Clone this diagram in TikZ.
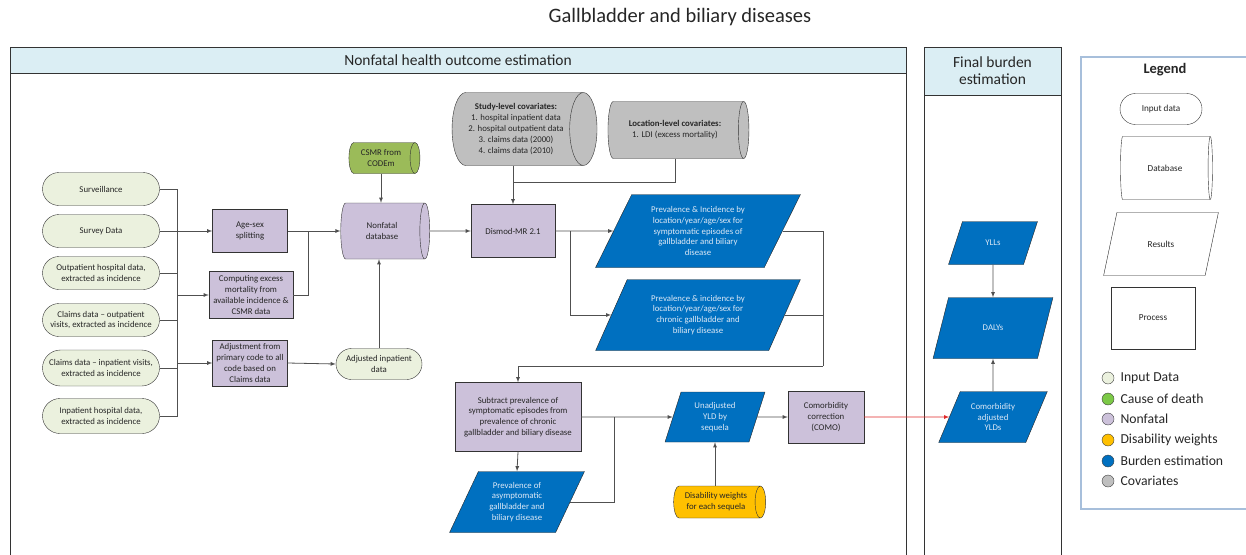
\documentclass[tikz,border=0pt]{standalone}
\usepackage{fontspec}
\setmainfont{Carlito}
\usepackage{xcolor}
\usepackage{tikz}
\usetikzlibrary{shapes,arrows,positioning,fit,backgrounds}

\definecolor{inputfill}{HTML}{EBF1DE}
\definecolor{codfill}{HTML}{9BBB59}
\definecolor{nonfatalfill}{HTML}{CCC1DA}
\definecolor{dwfill}{HTML}{FFC000}
\definecolor{burdenfill}{HTML}{0070C0}
\definecolor{covfill}{HTML}{BFBFBF}
\definecolor{headfill}{HTML}{DBEEF4}
\definecolor{resulttext}{HTML}{DCE8F6}
\definecolor{textgray}{HTML}{262626}
\definecolor{wiregray}{HTML}{505050}
\definecolor{legendblue}{HTML}{A7BFDB}
\definecolor{comored}{HTML}{E02828}

\begin{document}
\begin{tikzpicture}[
  x=1pt, y=-1pt,
  every node/.style={font=\fontsize{8.8}{10.8}\selectfont, text=textgray},
  inputbox/.style={rounded rectangle, draw=black!80, fill=inputfill, align=center,
                   minimum width=119pt, minimum height=33pt, inner sep=1pt},
  procbox/.style={rectangle, draw=black!80, fill=nonfatalfill, align=center, inner sep=1pt},
  % cylinder sizes are given before rotation: height runs along x
  dbase/.style={cylinder, draw=black!80, shape aspect=0.52, align=center, inner sep=1pt},
  result/.style={trapezium, trapezium left angle=63, trapezium right angle=117,
                 trapezium stretches=true, draw=black!85, fill=burdenfill,
                 text=resulttext, align=center, inner sep=1pt},
  lanebox/.style={draw=black!80, line width=0.9pt},
  dot/.style={circle, draw=black!75, minimum size=12pt, inner sep=0pt},
  legtext/.style={anchor=west, font=\fontsize{13.7}{16}\selectfont},
  smalltext/.style={font=\fontsize{9.2}{11}\selectfont},
  wire/.style={draw=wiregray, line width=0.8pt},
  arrow/.style={wire, -latex},
  redarrow/.style={draw=comored, line width=0.8pt, -latex}
]
\useasboundingbox (0,0) rectangle (1246,554);

\node[font=\fontsize{20.5}{24}\selectfont] (title) at (680,17) {Gallbladder and biliary diseases};

% swim lanes
\draw[lanebox] (10,47) rectangle (906,570);
\draw[lanebox, fill=headfill] (10,47) rectangle (906,73);
\node[font=\fontsize{15.5}{18}\selectfont] (nfhead) at (458,60) {Nonfatal health outcome estimation};
\draw[lanebox] (924,47) rectangle (1061,570);
\draw[lanebox, fill=headfill] (924,47) rectangle (1061,95);
\node[font=\fontsize{15.5}{17}\selectfont, align=center] (fbhead) at (992.5,71) {Final burden\\estimation};

% input data
\node[inputbox] (surv) at (101,189) {Surveillance};
\node[inputbox] (survey) at (101,231) {Survey Data};
\node[inputbox] (outhosp) at (101,273) {Outpatient hospital data,\\extracted as incidence};
\node[inputbox] (claimsout) at (101,320) {Claims data -- outpatient\\visits, extracted as incidence};
\node[inputbox, minimum height=36pt] (claimsin) at (101,368) {Claims data -- inpatient visits,\\extracted as incidence};
\node[inputbox, minimum height=35pt] (inhosp) at (101,416) {Inpatient hospital data,\\extracted as incidence};
\coordinate (bus) at (177,189);

% nonfatal processing
\node[procbox, minimum width=75pt, minimum height=43pt] (agesex) at (250,231) {Age-sex\\splitting};
\node[procbox, minimum width=84pt, minimum height=47pt] (excess) at (251,295)
      {Computing excess\\mortality from\\available incidence \&\\CSMR data};
\node[procbox, minimum width=75pt, minimum height=46pt] (adjust) at (250,363)
      {Adjustment from\\primary code to all\\code based on\\Claims data};
\node[inputbox, minimum width=88pt, minimum height=31pt] (adjinp) at (379,364) {Adjusted inpatient\\data};
\node[dbase, fill=nonfatalfill, minimum height=89pt, minimum width=56pt] (nonfatal) at (382,231) {Nonfatal\\database};
\node[dbase, fill=codfill, minimum height=71pt, minimum width=31pt] (csmr) at (381,158) {CSMR from\\CODEm};
\coordinate (merge) at (308,231);

% covariates and modelling
\node[dbase, fill=covfill, minimum height=145pt, minimum width=73pt] (studycov) at (516,129)
      {\textbf{Study-level covariates:}\\1. hospital inpatient data\\2. hospital outpatient data\\3. claims data (2000)\\4. claims data (2010)};
\node[dbase, fill=covfill, minimum height=141pt, minimum width=57pt] (loccov) at (675,130)
      {\textbf{Location-level covariates:}\\1. LDI (excess mortality)};
\node[procbox, minimum width=84pt, minimum height=53pt] (dismod) at (513,231) {Dismod-MR 2.1};
\coordinate (split) at (570,231);

\node[result, minimum width=205pt, minimum height=73pt] (symp) at (698,231)
      {Prevalence \& Incidence by\\location/year/age/sex for\\symptomatic episodes of\\gallbladder and biliary\\disease};
\node[result, minimum width=205pt, minimum height=71pt] (chronic) at (698,315)
      {Prevalence \& incidence by\\location/year/age/sex for\\chronic gallbladder and\\biliary disease};
\coordinate (loopr) at (823,366);

\node[procbox, minimum width=126pt, minimum height=69pt] (subtract) at (518,417)
      {Subtract prevalence of\\symptomatic episodes from\\prevalence of chronic\\gallbladder and biliary disease};
\node[result, minimum width=135pt, minimum height=61pt] (asymp) at (517,502)
      {Prevalence of\\asymptomatic\\gallbladder and\\biliary disease};
\coordinate (join) at (614,417);

\node[result, trapezium left angle=72, trapezium right angle=108,
      minimum width=100pt, minimum height=50pt] (unadj) at (715,417) {Unadjusted\\YLD by\\sequela};
\node[dbase, fill=dwfill, minimum height=92pt, minimum width=32pt] (dw) at (716,502) {Disability weights\\for each sequela};
\node[procbox, minimum width=76pt, minimum height=52pt] (como) at (826,417) {Comorbidity\\correction\\(COMO)};

% final burden
\node[result, minimum width=89pt, minimum height=43pt] (ylls) at (993,243) {YLLs};
\node[result, minimum width=120pt, minimum height=61pt] (dalys) at (993,328) {DALYs};
\node[result, minimum width=109pt, minimum height=51pt] (adjyld) at (993,417) {Comorbidity\\adjusted\\YLDs};

% legend
\draw[draw=legendblue, line width=1.2pt] (1081,57) rectangle (1270,509);
\node[font=\bfseries\fontsize{14.5}{17}\selectfont] (legtitle) at (1165,70) {Legend};
\node[inputbox, fill=white, minimum width=84pt, minimum height=31pt, smalltext] (leginput) at (1161,109) {Input data};
\node[dbase, fill=white, minimum height=92pt, minimum width=63pt, smalltext] (legdb) at (1165,168) {Database};
\node[result, fill=white, text=textgray, minimum width=115pt, minimum height=63pt, smalltext] (legres) at (1161,244) {Results};
\node[procbox, fill=white, minimum width=84pt, minimum height=62pt, smalltext] (legproc) at (1153,318) {Process};

\node[dot, fill=inputfill] (dotinput) at (1108,378) {};
\node[legtext] (labinput) at (1117,378) {Input Data};
\node[dot, fill=codfill!80!green] (dotcod) at (1108,399) {};
\node[legtext] (labcod) at (1117,399) {Cause of death};
\node[dot, fill=nonfatalfill] (dotnf) at (1108,419) {};
\node[legtext] (labnf) at (1117,419) {Nonfatal};
\node[dot, fill=dwfill] (dotdw) at (1108,440) {};
\node[legtext] (labdw) at (1117,440) {Disability weights};
\node[dot, fill=burdenfill] (dotburden) at (1108,461) {};
\node[legtext] (labburden) at (1117,461) {Burden estimation};
\node[dot, fill=covfill] (dotcov) at (1108,481) {};
\node[legtext] (labcov) at (1117,481) {Covariates};

% connectors
\draw[wire] (surv.east) -- (surv.east -| bus) -- (inhosp.east -| bus) -- (inhosp.east);
\draw[wire] (survey.east) -- (survey.east -| bus);
\draw[wire] (outhosp.east) -- (outhosp.east -| bus);
\draw[wire] (claimsout.east) -- (claimsout.east -| bus);
\draw[wire] (claimsin.east) -- (claimsin.east -| bus);
\draw[arrow] (agesex.west -| bus) -- (agesex.west);
\draw[arrow] (excess.west -| bus) -- (excess.west);
\draw[arrow] (adjust.west -| bus) -- (adjust.west);

\draw[arrow] (agesex.east) -- (nonfatal.west);
\draw[wire] (excess.east) -| (merge);
\draw[arrow] (adjust.east) -- (adjinp.west);
\draw[arrow] (adjinp.north) -- (adjinp.north |- nonfatal.south);
\draw[arrow] (csmr.south) -- (csmr.south |- nonfatal.north);
\draw[arrow] (nonfatal.east) -- (dismod.west);

\draw[arrow] (studycov.south -| dismod.north) -- (dismod.north);
\draw[wire] (loccov.south) |- ([yshift=-17pt]studycov.south -| dismod.north);

\draw[arrow] (dismod.east) -- (symp.west);
\draw[arrow] (split) |- (chronic.west);
\draw[wire] (symp.east) -| (loopr);
\draw[wire] (chronic.east) -- (chronic.east -| loopr);
\draw[arrow] (loopr) -| (subtract.north);

\draw[arrow] (subtract.south) -- (asymp.north);
\draw[arrow] (subtract.east) -- (unadj.west);
\draw[wire] (asymp.east) -| (join);
\draw[arrow] (dw.north -| unadj.south) -- (unadj.south);
\draw[arrow] (unadj.east) -- (como.west);
\draw[redarrow] (como.east) -- (adjyld.west);

\draw[arrow] (ylls.south) -- (dalys.north);
\draw[arrow] (adjyld.north) -- (dalys.south);

\end{tikzpicture}
\end{document}
